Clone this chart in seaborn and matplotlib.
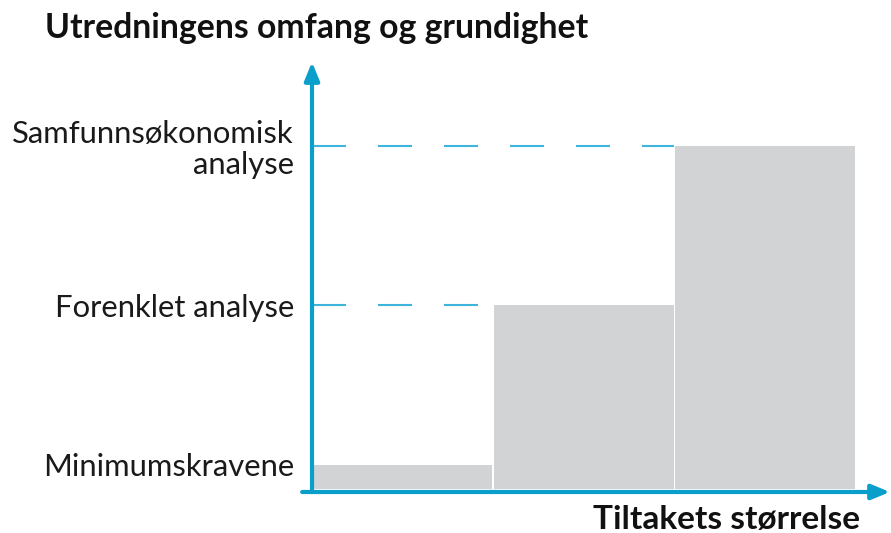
import seaborn as sns
import matplotlib.pyplot as plt
import pandas as pd

# steps of the staircase (size of the measure) and required analysis level
steps = ["Små tiltak", "Mellomstore tiltak", "Store tiltak"]
levels = [0.07, 0.535, 1.0]
level_names = ["Minimumskravene", "Forenklet analyse", "Samfunnsøkonomisk\nanalyse"]

title = "Utredningens omfang og grundighet"
xlabel = "Tiltakets størrelse"

blue = "#0a9fcb"
dash_blue = "#3db5dc"
grey = "#d1d3d4"

sns.set_style("white")
plt.rcParams['font.family'] = ['Lato', 'DejaVu Sans']

df = pd.DataFrame({'steg': steps, 'niva': levels})

fig = plt.figure(figsize=(8.91, 5.33), dpi=100)
ax = fig.add_axes([312 / 891, 41 / 533, 578 / 891, 430 / 533])

sns.barplot(x='steg', y='niva', data=df, color=grey, width=0.992,
            saturation=1, linewidth=0, ax=ax)

ax.set_xlim(-0.5, 2.69)
ax.set_ylim(-0.009, 1.244)

# dashed guide lines to the upper steps
lw = 1.5
dash = (0, (34 * 0.72 / lw, 32 * 0.72 / lw))
ax.hlines(levels[2], -0.5, 1.5, color=dash_blue, lw=lw, linestyle=dash)
ax.hlines(levels[1], -0.5, 0.5, color=dash_blue, lw=lw, linestyle=dash)

for s in ax.spines.values():
    s.set_visible(False)

# axes with arrow heads
ax.annotate("", xy=(0, 1), xytext=(0, 0), xycoords='axes fraction',
            arrowprops=dict(arrowstyle="-|>,head_length=1.1,head_width=0.45",
                            color=blue, lw=3, shrinkA=0, shrinkB=0))
ax.annotate("", xy=(1, 0), xytext=(-0.017, 0), xycoords='axes fraction',
            arrowprops=dict(arrowstyle="-|>,head_length=1.1,head_width=0.45",
                            color=blue, lw=3, shrinkA=0, shrinkB=0))

ax.set_xticks([])
ax.set_yticks(levels)
ax.set_yticklabels(level_names, fontsize=22.3, fontweight='normal',
                   linespacing=1.1, ha='right', color='#1a1a1a')
ax.tick_params(axis='y', length=0, pad=13)
ax.set_xlabel("")
ax.set_ylabel("")

fig.text(45 / 891, 1 - 28 / 533, title, fontsize=24.3, fontweight='bold',
         va='center', ha='left', color='#111111')
fig.text(860 / 891, 1 - 519 / 533, xlabel, fontsize=24, fontweight='bold',
         va='center', ha='right', color='#111111')

plt.savefig("out.png", dpi=100)
